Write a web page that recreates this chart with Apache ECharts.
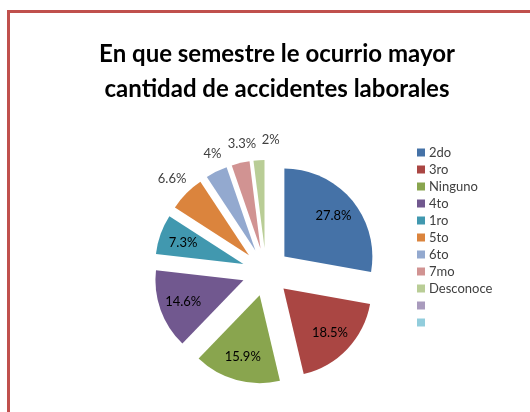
<!DOCTYPE html>
<html>
<head>
<meta charset="utf-8">
<script src="https://cdn.jsdelivr.net/npm/echarts@6/dist/echarts.min.js"></script>
<style>
  body { margin: 0; background: #fff; }
  #grid { position: absolute; left: 0; top: 0; width: 530px; height: 412px; }
  #frame {
    position: absolute; left: 7px; top: 10px; width: 600px; height: 500px;
    border-left: 3px solid #c0504d; border-top: 3px solid #c0504d;
    pointer-events: none;
  }
</style>
</head>
<body>
<div id="grid"></div>
<div id="frame"></div>
<script>
const categories = ['2do', '3ro', 'Ninguno', '4to', '1ro', '5to', '6to', '7mo', 'Desconoce', ' ', '  '];
const percents = [27.8, 18.5, 15.9, 14.6, 7.3, 6.6, 4, 3.3, 2, 0, 0];
// which labels sit inside the slice, which sit just outside
const insideLabel = [true, true, true, true, true, false, false, false, false, false, false];
const colors = ['#4572a7', '#aa4643', '#89a54e', '#71588f', '#4198af', '#db843d',
  '#93a9cf', '#d19392', '#b9cd96', '#a99bbd', '#92cddc'];

// small sideways push (px of left padding) for the crowded outside labels
const labelNudge = { '6to': 10, '7mo': 12, 'Desconoce': 26 };

const myChart = echarts.init(document.getElementById('grid'));

const center = [266, 272];
const radius = 88;
const offset = 24;

function pieData(labelFilter) {
  return categories.map((name, i) => ({
    name: name,
    value: percents[i],
    selected: true,
    label: {
      show: labelFilter(i),
      padding: [0, 0, 0, labelNudge[name] || 0],
    },
  }));
}

const labelStyle = {
  position: 'inside',
  formatter: '{c}%',
  fontFamily: 'Lato',
  fontSize: 13,
  color: '#000',
  overflow: 'none',
};

const ghost = {
  type: 'pie',
  center: center,
  startAngle: 90,
  selectedMode: 'multiple',
  selectedOffset: offset,
  minShowLabelAngle: 0,
  silent: true,
  itemStyle: { color: 'rgba(0,0,0,0)' },
  labelLine: { show: false },
  labelLayout: { hideOverlap: false },
  emphasis: { disabled: true },
};

const option = {
  animation: false,
  color: colors,
  title: {
    text: 'En que semestre le ocurrio mayor\ncantidad de accidentes laborales',
    left: 272,
    top: 32,
    textAlign: 'center',
    textStyle: {
      fontFamily: 'Lato',
      fontWeight: 'bold',
      fontSize: 24,
      lineHeight: 35,
      color: '#000',
    },
  },
  legend: {
    orient: 'vertical',
    left: 412,
    top: 141,
    icon: 'rect',
    itemWidth: 8,
    itemHeight: 8,
    itemGap: 4,
    selectedMode: false,
    data: categories,
    textStyle: {
      fontFamily: 'Lato',
      fontSize: 13,
      lineHeight: 13,
      color: '#404040',
      padding: [0, 0, 0, -1],
    },
  },
  series: [
    {
      name: 'main',
      type: 'pie',
      center: center,
      radius: radius,
      startAngle: 90,
      selectedMode: 'multiple',
      selectedOffset: offset,
      silent: true,
      label: { show: false },
      labelLine: { show: false },
      emphasis: { disabled: true },
      data: pieData(() => false),
    },
    Object.assign({}, ghost, {
      name: 'inner',
      radius: [34, radius],
      label: labelStyle,
      data: pieData((i) => insideLabel[i] && percents[i] > 0),
    }),
    Object.assign({}, ghost, {
      name: 'outer',
      radius: [70, 140],
      label: Object.assign({}, labelStyle, { color: '#404040' }),
      data: pieData((i) => !insideLabel[i] && percents[i] > 0),
    }),
  ],
};

myChart.setOption(option);
</script>
</body>
</html>
